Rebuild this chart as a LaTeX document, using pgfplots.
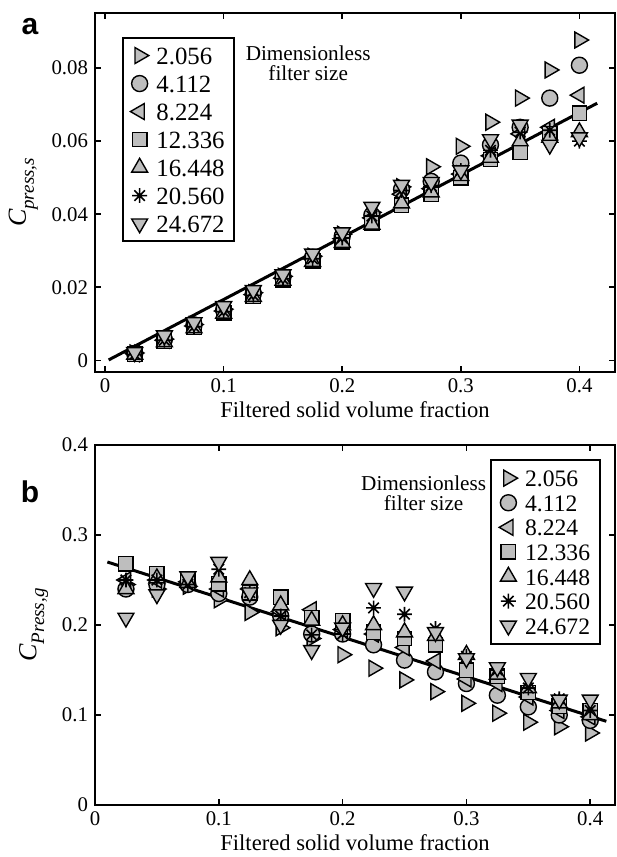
\documentclass[border=0pt]{standalone}
\usepackage{fontspec}
\setmainfont{Liberation Serif}
\newfontfamily\panelfont{Liberation Sans}
\usepackage{pgfplots}
\pgfplotsset{compat=1.18}
\usepackage{pgfplotstable}

\definecolor{mgray}{RGB}{190,190,190}

\pgfdeclareplotmark{ast8}{%
  \pgfpathmoveto{\pgfqpoint{-\pgfplotmarksize}{0pt}}\pgfpathlineto{\pgfqpoint{\pgfplotmarksize}{0pt}}%
  \pgfpathmoveto{\pgfqpoint{0pt}{-\pgfplotmarksize}}\pgfpathlineto{\pgfqpoint{0pt}{\pgfplotmarksize}}%
  \pgfpathmoveto{\pgfqpoint{-0.707\pgfplotmarksize}{-0.707\pgfplotmarksize}}\pgfpathlineto{\pgfqpoint{0.707\pgfplotmarksize}{0.707\pgfplotmarksize}}%
  \pgfpathmoveto{\pgfqpoint{-0.707\pgfplotmarksize}{0.707\pgfplotmarksize}}\pgfpathlineto{\pgfqpoint{0.707\pgfplotmarksize}{-0.707\pgfplotmarksize}}%
  \pgfusepathqstroke}

\pgfplotstableread{
x      s1      s2      s3      s4      s5      s6      s7
0.025  0.0020  0.0019  0.0018  0.0017  0.0016  0.0016  0.0022
0.050  0.0058  0.0057  0.0055  0.0052  0.0050  0.0055  0.0068
0.075  0.0098  0.0097  0.0094  0.0090  0.0088  0.0092  0.0104
0.100  0.0140  0.0138  0.0135  0.0130  0.0128  0.0133  0.0148
0.125  0.0185  0.0183  0.0180  0.0176  0.0174  0.0178  0.0192
0.150  0.0230  0.0228  0.0225  0.0220  0.0218  0.0223  0.0235
0.175  0.0285  0.0282  0.0278  0.0272  0.0270  0.0278  0.0292
0.200  0.0345  0.0340  0.0333  0.0325  0.0322  0.0335  0.0350
0.225  0.0405  0.0398  0.0390  0.0375  0.0372  0.0395  0.0420
0.250  0.0475  0.0468  0.0455  0.0425  0.0430  0.0465  0.0480
0.275  0.0530  0.0490  0.0470  0.0455  0.0460  0.0478  0.0488
0.300  0.0586  0.0540  0.0510  0.0500  0.0505  0.0520  0.0520
0.325  0.0652  0.0590  0.0560  0.0550  0.0555  0.0575  0.0605
0.350  0.0718  0.0638  0.0620  0.0570  0.0600  0.0625  0.0645
0.375  0.0795  0.0718  0.0638  0.0620  0.0610  0.0630  0.0590
0.400  0.0877  0.0808  0.0726  0.0677  0.0625  0.0600  0.0610
}\dataA

\pgfplotstableread{
x      s1     s2     s3     s4     s5     s6     s7
0.025  0.245  0.240  0.250  0.268  0.240  0.250  0.208
0.050  0.240  0.245  0.250  0.257  0.252  0.250  0.234
0.075  0.243  0.245  0.248  0.250  0.247  0.245  0.254
0.100  0.228  0.235  0.240  0.246  0.253  0.262  0.270
0.125  0.214  0.231  0.240  0.236  0.250  0.236  0.236
0.150  0.197  0.210  0.215  0.231  0.222  0.210  0.200
0.175  0.185  0.190  0.217  0.208  0.205  0.189  0.172
0.200  0.167  0.190  0.195  0.205  0.200  0.190  0.197
0.225  0.152  0.178  0.190  0.192  0.200  0.219  0.241
0.250  0.139  0.161  0.175  0.185  0.192  0.212  0.237
0.275  0.126  0.148  0.160  0.178  0.188  0.196  0.192
0.300  0.113  0.135  0.140  0.150  0.167  0.165  0.163
0.325  0.102  0.122  0.135  0.143  0.145  0.150  0.153
0.350  0.092  0.109  0.120  0.125  0.130  0.130  0.141
0.375  0.087  0.100  0.105  0.110  0.113  0.118  0.117
0.400  0.080  0.094  0.098  0.105  0.100  0.105  0.117
}\dataB

\tikzset{mk/.style={draw=black, fill=mgray, line width=0.7pt, solid}}

\pgfplotsset{
  sA/.style={only marks, mark=triangle*, mark size=4.6pt, mark options={mk, rotate=-90}},
  sB/.style={only marks, mark=*, mark size=4pt, mark options={mk}},
  sC/.style={only marks, mark=triangle*, mark size=4.6pt, mark options={mk, rotate=90}},
  sD/.style={only marks, mark=square*, mark size=3.6pt, mark options={mk}},
  sE/.style={only marks, mark=triangle*, mark size=4.6pt, mark options={mk}},
  sF/.style={only marks, mark=ast8, mark size=3.7pt, mark options={draw=black, line width=0.8pt, solid}},
  sG/.style={only marks, mark=triangle*, mark size=4.6pt, mark options={mk, rotate=180}},
  myaxis/.style={
    scale only axis, width=260pt,
    axis line style={line width=1pt},
    tick style={line width=0.8pt, black},
    major tick length=3pt, tick align=inside,
    xtick pos=both, ytick pos=both,
    scaled ticks=false,
    /pgf/number format/assume math mode=true,
    /pgf/number format/fixed,
    tick label style={font=\fontsize{10.4}{12}\selectfont},
    xlabel style={font=\fontsize{11.3}{13}\selectfont, yshift=2.5pt},
    ylabel style={font=\fontsize{13}{15}\selectfont},
    xlabel={Filtered solid volume fraction},
    legend cell align=left,
    legend style={draw=black, line width=1pt, font=\fontsize{12.4}{14}\selectfont,
      nodes={inner sep=0.8pt, text height=8.5pt, text depth=0pt},
      /tikz/every odd column/.append style={column sep=3pt}},
  },
}

\begin{document}
\begin{tikzpicture}
% Panel a
\begin{axis}[myaxis, at={(47.5pt,-6.5pt)}, anchor=north west, height=179.5pt,
  xmin=-0.0085, xmax=0.43, ymin=-0.0032, ymax=0.0951,
  xtick={0,0.1,0.2,0.3,0.4}, xticklabels={0,0.1,0.2,0.3,0.4},
  ytick={0,0.02,0.04,0.06,0.08}, yticklabels={0,0.02,0.04,0.06,0.08},
  ylabel={\itshape C\raisebox{-0.3em}{\fontsize{9.5}{10}\selectfont press,s}},
  legend style={at={(rel axis cs:0.052,0.933)}, anchor=north west, row sep=3.9pt, inner sep=3.7pt},
  legend entries={2.056,4.112,8.224,12.336,16.448,20.560,24.672}]
\addplot[sA] table[x=x,y=s1]{\dataA};
\addplot[sB] table[x=x,y=s2]{\dataA};
\addplot[sC] table[x=x,y=s3]{\dataA};
\addplot[sD] table[x=x,y=s4]{\dataA};
\addplot[sE] table[x=x,y=s5]{\dataA};
\addplot[sF] table[x=x,y=s6]{\dataA};
\addplot[sG] table[x=x,y=s7]{\dataA};
\addplot[black, line width=1.5pt, mark=none, forget plot] coordinates {(0.003,0.0001) (0.415,0.0704)};
\node[align=center, font=\fontsize{10.6}{10}\selectfont] at (rel axis cs:0.41,0.861) {Dimensionless\\filter size};
\end{axis}
% Panel b
\begin{axis}[myaxis, at={(47.5pt,-222.5pt)}, anchor=north west, height=180pt,
  xmin=0, xmax=0.42, ymin=0, ymax=0.4,
  xtick={0,0.1,0.2,0.3,0.4}, xticklabels={0,0.1,0.2,0.3,0.4},
  ytick={0,0.1,0.2,0.3,0.4}, yticklabels={0,0.1,0.2,0.3,0.4},
  ylabel={\itshape C\raisebox{-0.3em}{\fontsize{9.5}{10}\selectfont Press,g}},
  legend style={at={(rel axis cs:0.76,0.961)}, anchor=north west, row sep=2.2pt, inner sep=4pt,
    font=\fontsize{11.8}{13}\selectfont},
  legend entries={2.056,4.112,8.224,12.336,16.448,20.560,24.672}]
\addplot[sA] table[x=x,y=s1]{\dataB};
\addplot[sB] table[x=x,y=s2]{\dataB};
\addplot[sC] table[x=x,y=s3]{\dataB};
\addplot[sD] table[x=x,y=s4]{\dataB};
\addplot[sE] table[x=x,y=s5]{\dataB};
\addplot[sF] table[x=x,y=s6]{\dataB};
\addplot[sG] table[x=x,y=s7]{\dataB};
\addplot[black, line width=1.5pt, mark=none, forget plot] coordinates {(0.01,0.27) (0.413,0.093)};
\node[align=center, font=\fontsize{10.6}{10}\selectfont] at (rel axis cs:0.632,0.867) {Dimensionless\\filter size};
\end{axis}
\node[font=\panelfont\bfseries\fontsize{15}{16}\selectfont] at (15pt,-13.5pt) {a};
\node[font=\panelfont\bfseries\fontsize{15}{16}\selectfont] at (15pt,-246pt) {b};
\pgfresetboundingbox
\path[use as bounding box] (0,0) rectangle (308pt,-428.5pt);
\end{tikzpicture}
\end{document}
